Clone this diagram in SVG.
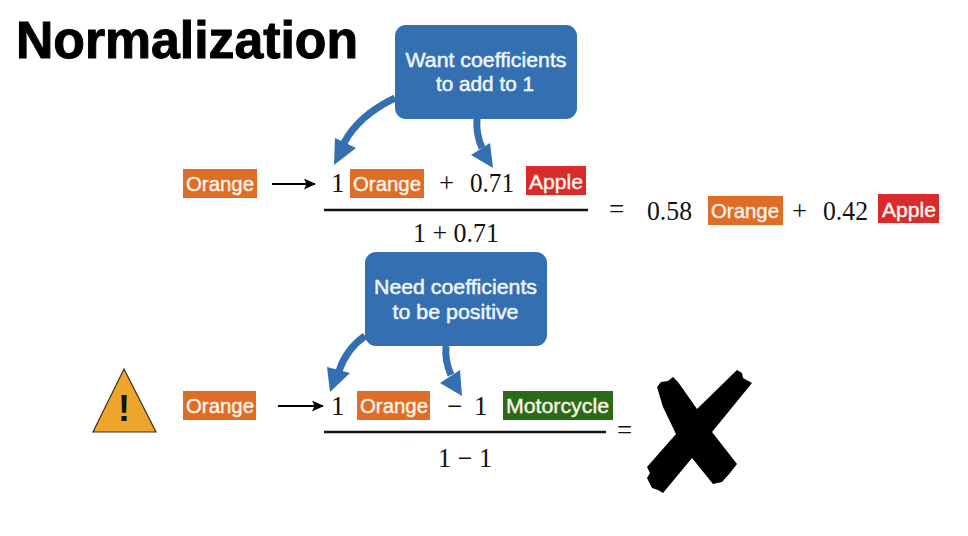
<svg xmlns="http://www.w3.org/2000/svg" width="968" height="536" viewBox="0 0 968 536">
<defs>
<marker id="blk" markerUnits="userSpaceOnUse" markerWidth="13" markerHeight="12" refX="11" refY="5.5" orient="auto"><path d="M0 0L12 5.5L0 11L2.5 5.5Z" fill="#000"/></marker>
</defs>
<style>
.sans{font-family:"Liberation Sans",Arial,sans-serif}
.m{font-family:"Liberation Serif","Times New Roman",serif;font-size:27px;fill:#111}
.tag{font-family:"Liberation Sans",Arial,sans-serif;font-size:20.5px;fill:#fdf3ea;stroke:#fdf3ea;stroke-width:.4}
.o{fill:#df6d26}.r{fill:#d92b2b}.g{fill:#2a6b18}
.cb{fill:#346fb2}
.ct{font-family:"Liberation Sans",Arial,sans-serif;font-size:20.5px;fill:#eef6fc;stroke:#eef6fc;stroke-width:.5}
.cn{fill:none;stroke:#346fb2;stroke-width:7}
.ah{fill:#346fb2}
.rule{stroke:#111;stroke-width:2.6}
.ar{stroke:#000;stroke-width:2.2;fill:none;marker-end:url(#blk)}
</style>
<rect width="968" height="536" fill="#fff"/>
<text id="title" x="16" y="58" class="sans" font-size="51" font-weight="700" fill="#000" stroke="#000" stroke-width="1" textLength="342" lengthAdjust="spacingAndGlyphs">Normalization</text>

<g id="connectors">
<path class="cn" d="M395 98C372 109 354 124 344 143"/>
<path class="ah" d="M334 165L335 138L356 148Z"/>
<path class="cn" d="M477 118C476 130 478 139 482 148"/>
<path class="ah" d="M493 168L471 155L490 143Z"/>
<path class="cn" d="M365 336C352 345 344 356 339 371"/>
<path class="ah" d="M330 392L327 367L350 373Z"/>
<path class="cn" d="M446 346C445 357 447 366 451 375"/>
<path class="ah" d="M462 396L440 383L460 370Z"/>
<path class="ar" d="M272 184H315"/>
<path class="ar" d="M278 406H323"/>
</g>

<g id="note1"><rect class="cb" x="395" y="25" width="182" height="94" rx="11"/>
<text class="ct" x="405.500" y="67" textLength="161" lengthAdjust="spacingAndGlyphs">Want coefficients</text><text class="ct" x="436" y="91" textLength="98" lengthAdjust="spacingAndGlyphs">to add to 1</text></g>
<g id="note2"><rect class="cb" x="365" y="252" width="182" height="94" rx="11"/>
<text class="ct" x="374" y="294" textLength="163" lengthAdjust="spacingAndGlyphs">Need coefficients</text><text class="ct" x="392.500" y="319" textLength="126" lengthAdjust="spacingAndGlyphs">to be positive</text></g>

<g id="orange1"><rect class="o" x="183" y="169" width="74" height="29"/><text class="tag" x="186" y="191" textLength="68" lengthAdjust="spacingAndGlyphs">Orange</text></g>
<text class="m" x="331" y="192">1</text>
<g id="orange2"><rect class="o" x="350" y="169" width="74" height="29"/><text class="tag" x="353" y="191" textLength="68" lengthAdjust="spacingAndGlyphs">Orange</text></g>
<text class="m" x="439" y="192" font-size="28">+</text>
<text class="m" x="470" y="192" textLength="44" lengthAdjust="spacingAndGlyphs">0.71</text>
<g id="apple1"><rect class="r" x="526" y="166" width="60" height="29"/><text class="tag" x="529" y="189" textLength="54" lengthAdjust="spacingAndGlyphs">Apple</text></g>
<line class="rule" x1="324" y1="210" x2="588" y2="210"/>
<text class="m" x="413" y="242" textLength="86" lengthAdjust="spacingAndGlyphs">1 + 0.71</text>
<text class="m" x="609" y="218" font-size="28">=</text>
<text class="m" x="647" y="220" textLength="45" lengthAdjust="spacingAndGlyphs">0.58</text>
<g id="orange3"><rect class="o" x="708" y="196" width="75" height="29"/><text class="tag" x="711" y="218" textLength="68" lengthAdjust="spacingAndGlyphs">Orange</text></g>
<text class="m" x="792" y="220" font-size="28">+</text>
<text class="m" x="823" y="220" textLength="45" lengthAdjust="spacingAndGlyphs">0.42</text>
<g id="apple2"><rect class="r" x="878" y="194" width="61" height="29"/><text class="tag" x="882" y="217" textLength="54" lengthAdjust="spacingAndGlyphs">Apple</text></g>

<g id="warning"><path d="M124 369L156 432H93Z" fill="#eda52c" stroke="#3a3020" stroke-width="1.2"/>
<text x="124" y="421" class="sans" font-size="36" font-weight="700" fill="#111" text-anchor="middle">!</text></g>
<g id="orange4"><rect class="o" x="183" y="391" width="73" height="29"/><text class="tag" x="186" y="413" textLength="68" lengthAdjust="spacingAndGlyphs">Orange</text></g>
<text class="m" x="331" y="415">1</text>
<g id="orange5"><rect class="o" x="357" y="391" width="73" height="29"/><text class="tag" x="360" y="413" textLength="68" lengthAdjust="spacingAndGlyphs">Orange</text></g>
<text class="m" x="447" y="415" font-size="26">−</text>
<text class="m" x="474" y="415">1</text>
<g id="moto"><rect class="g" x="503" y="391" width="110" height="29"/><text class="tag" x="506" y="413" textLength="103" lengthAdjust="spacingAndGlyphs">Motorcycle</text></g>
<line class="rule" x1="324" y1="432" x2="606" y2="432"/>
<text class="m" x="438" y="467" textLength="54" lengthAdjust="spacingAndGlyphs">1 − 1</text>
<text class="m" x="617" y="439" font-size="28">=</text>
<path id="cross" fill="#000" d="M657 387L661 382L668 381L673 377L678 382L697 409L737 370L742 373L743 378L752 383L712 432L737 464L730 473L722 482L713 484L692 458L663 493L658 490L652 488L647 478L650 473L647 467L676 434L663 407Z"/>
</svg>
